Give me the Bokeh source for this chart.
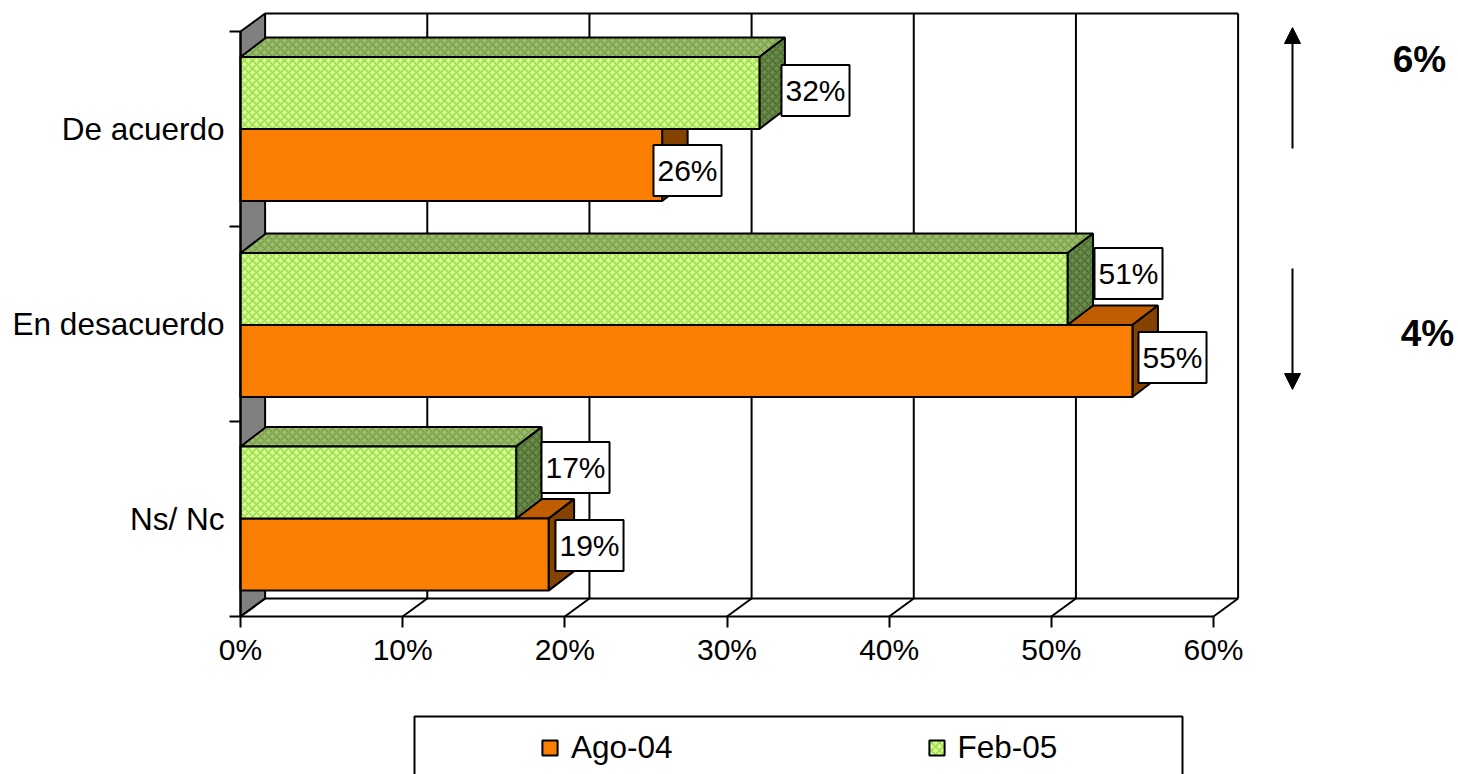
from bokeh.plotting import figure
from bokeh.embed import file_html
from bokeh.resources import INLINE
from bokeh.models import FixedTicker, Label, Legend, LegendItem, Arrow, NormalHead

# ---- data ----
categories = ["Ns/ Nc", "En desacuerdo", "De acuerdo"]
ago_04 = [19, 55, 26]
feb_05 = [17, 51, 32]
x_ticks = [0, 10, 20, 30, 40, 50, 60]
x_tick_labels = ["0%", "10%", "20%", "30%", "40%", "50%", "60%"]
series_names = ["Ago-04", "Feb-05"]
notes = ["6%", "4%"]

# ---- layout constants (page pixels) ----
FONT = "Liberation Sans"
W, H = 1458, 774
PX_X = 973 / 60      # px per percentage point
PX_Y = 195.0         # px per category band
ORIG_X, ORIG_Y = 240, 616
WALL_DX, WALL_DY = 24.6 / PX_X, 18 / PX_Y
BAR_DX, BAR_DY = 25.5 / PX_X, 19.5 / PX_Y
BAR_H = 72 / PX_Y
CENTERS = [0.502, 1.495, 2.5]

def X(px):
    return (px - ORIG_X) / PX_X

def Y(px):
    return (ORIG_Y - px) / PX_Y

p = figure(width=W, height=H, output_backend="svg", toolbar_location=None,
           x_range=(X(0), X(W)), y_range=(Y(H), Y(0)),
           min_border_left=0, min_border_right=0, min_border_top=0, min_border_bottom=0,
           outline_line_color=None, background_fill_color="white")
p.grid.visible = False

# ---- axes ----
xa = p.xaxis[0]
xa.fixed_location = 0
xa.ticker = FixedTicker(ticks=x_ticks)
xa.major_label_overrides = {t: l for t, l in zip(x_ticks, x_tick_labels)}
xa.bounds = (0, 60)
xa.axis_line_color = "black"; xa.axis_line_width = 2
xa.major_tick_line_color = "black"; xa.major_tick_line_width = 2
xa.major_tick_in = 0; xa.major_tick_out = 11
xa.minor_tick_line_color = None
xa.major_label_standoff = 5
xa.major_label_text_font = FONT; xa.major_label_text_font_size = "30px"
xa.major_label_text_color = "black"

ya = p.yaxis[0]
ya.fixed_location = 0
ya.ticker = FixedTicker(ticks=[0.5, 1.5, 2.5], minor_ticks=[0, 1, 2, 3])
ya.major_label_overrides = {i + 0.5: c for i, c in enumerate(categories)}
ya.bounds = (0, 3)
ya.axis_line_color = "black"; ya.axis_line_width = 2
ya.major_tick_line_color = None; ya.major_tick_in = 0; ya.major_tick_out = 0
ya.minor_tick_line_color = "black"; ya.minor_tick_line_width = 2
ya.minor_tick_in = 0; ya.minor_tick_out = 11
ya.major_label_standoff = 5
ya.major_label_text_font = FONT; ya.major_label_text_font_size = "31.5px"
ya.major_label_text_color = "black"

# ---- 3D walls ----
p.patch([0, WALL_DX, WALL_DX, 0], [0, WALL_DY, 3 + WALL_DY, 3],
        fill_color="#808080", line_color="black", line_width=2)
grid_x = [t + WALL_DX for t in x_ticks[1:]]
p.segment(grid_x, [WALL_DY] * 6, grid_x, [3 + WALL_DY] * 6, line_color="black", line_width=2)
p.segment([WALL_DX, WALL_DX], [WALL_DY, 3 + WALL_DY],
          [60 + WALL_DX, 60 + WALL_DX], [WALL_DY, 3 + WALL_DY],
          line_color="black", line_width=2)
p.segment(x_ticks, [0] * 7, [t + WALL_DX for t in x_ticks], [WALL_DY] * 7,
          line_color="black", line_width=2)

# ---- bars ----
def bars(values, offset, front, top, side, hatch_front, hatch_top, hatch_side, scale, weight):
    ys = [c + offset for c in CENTERS]
    bot = [y - BAR_H / 2 for y in ys]
    upp = [y + BAR_H / 2 for y in ys]
    top_x = [[0, BAR_DX, v + BAR_DX, v] for v in values]
    top_y = [[u, u + BAR_DY, u + BAR_DY, u] for u in upp]
    side_x = [[v, v + BAR_DX, v + BAR_DX, v] for v in values]
    side_y = [[b, b + BAR_DY, u + BAR_DY, u] for b, u in zip(bot, upp)]
    hkw = dict(hatch_pattern="diagonal_cross", hatch_scale=scale, hatch_weight=weight,
               line_color="black", line_width=2)
    p.patches(top_x, top_y, fill_color=top, hatch_color=hatch_top, **hkw)
    p.patches(side_x, side_y, fill_color=side, hatch_color=hatch_side, **hkw)
    return p.hbar(y=ys, height=BAR_H, left=0, right=values, fill_color=front,
                  hatch_color=hatch_front, **hkw)

r_ago = bars(ago_04, -BAR_H / 2, "#FF8400", "#C66000", "#8A4500",
             "#F07400", "#B45800", "#7C3E00", 4, 1)
r_feb = bars(feb_05, BAR_H / 2, "#CCFF99", "#98BC6C", "#6A8A48",
             "#A6D640", "#7C9E48", "#4E6E34", 8, 1.5)

# ---- value labels ----
label_px = [
    (ago_04[0], 589, 545), (ago_04[1], 1172, 357), (ago_04[2], 687, 170),
    (feb_05[0], 575, 467), (feb_05[1], 1128, 273), (feb_05[2], 815, 90),
]
for v, px, py in label_px:
    p.add_layout(Label(x=X(px), y=Y(py), text=f"{v}%", text_font=FONT, text_font_size="30px",
                       text_color="black", text_align="center", text_baseline="middle",
                       background_fill_color="white", border_line_color="black",
                       border_line_width=2, padding=(4, 9)))

# ---- change annotations ----
head = dict(size=16, fill_color="black", line_color="black")
p.add_layout(Arrow(end=NormalHead(**head), x_start=X(1292), y_start=Y(148), x_end=X(1292), y_end=Y(27),
                   line_color="black", line_width=2))
p.add_layout(Arrow(end=NormalHead(**head), x_start=X(1292), y_start=Y(268), x_end=X(1292), y_end=Y(389),
                   line_color="black", line_width=2))
for txt, px, py in [(notes[0], 1419, 59), (notes[1], 1427, 333)]:
    p.add_layout(Label(x=X(px), y=Y(py), text=txt, text_font=FONT, text_font_size="37px",
                       text_font_style="bold", text_color="black",
                       text_align="center", text_baseline="middle"))

# ---- legend box and legend ----
p.quad(left=X(414), right=X(1182), top=Y(716), bottom=Y(H + 10),
       fill_color="white", line_color="black", line_width=2)
legend = Legend(items=[LegendItem(label=series_names[0], renderers=[r_ago]),
                       LegendItem(label=series_names[1], renderers=[r_feb])],
                orientation="horizontal", location=(540, 8), margin=0, padding=0,
                spacing=254, glyph_width=19, glyph_height=19, label_standoff=12,
                border_line_color=None, background_fill_alpha=0,
                label_text_font=FONT, label_text_font_size="31.5px", label_text_color="black")
p.add_layout(legend, "center")

open("out.html", "w").write(file_html(p, INLINE))
